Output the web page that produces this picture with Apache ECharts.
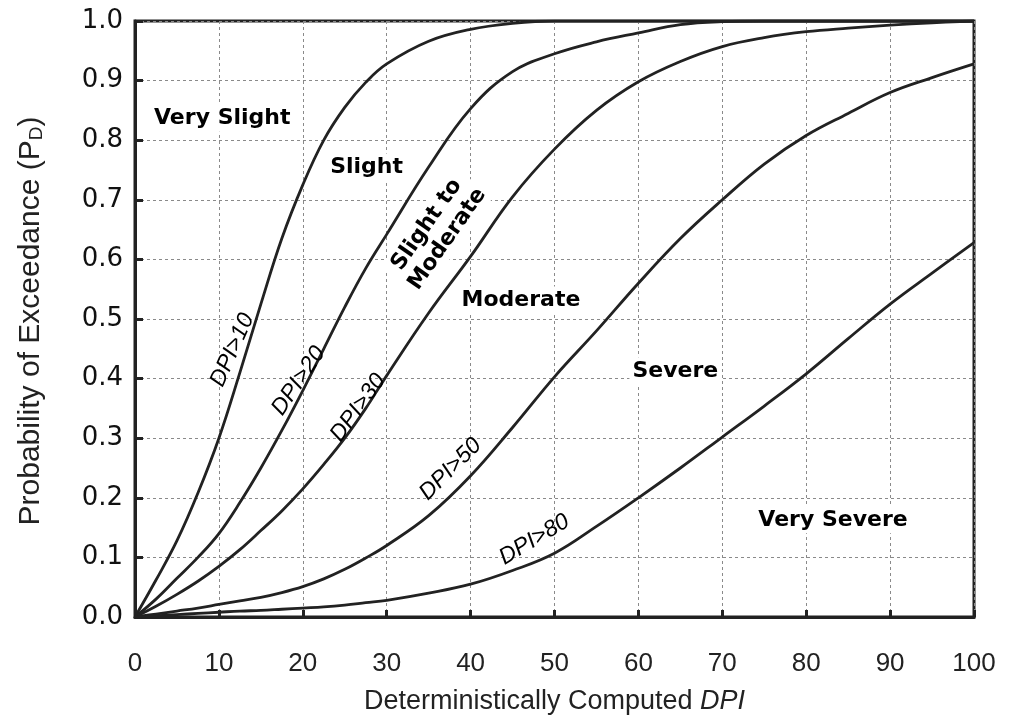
<!DOCTYPE html>
<html>
<head>
<meta charset="utf-8">
<script src="https://cdn.jsdelivr.net/npm/echarts@6/dist/echarts.min.js"></script>
<style>html,body{margin:0;padding:0;background:#fff;}#c{width:1009px;height:720px;}</style>
</head>
<body>
<div id="c"></div>
<script>
// DPI values (x) shared by all curves
var dpi = [0,2.5,5,7.5,10,12.5,15,17.5,20,22.5,25,27.5,30,35,40,45,50,55,60,65,70,75,80,85,90,95,100];
// Probability of exceedance for each threshold
var pGt10 = [0,0.062,0.128,0.208,0.30,0.41,0.525,0.635,0.725,0.80,0.855,0.897,0.928,0.966,0.986,0.996,1,1,1,1,1,1,1,1,1,1,1];
var pGt20 = [0,0.03,0.065,0.10,0.14,0.192,0.25,0.313,0.38,0.45,0.52,0.585,0.642,0.755,0.853,0.915,0.945,0.965,0.98,0.994,0.999,1,1,1,1,1,1];
var pGt30 = [0,0.018,0.038,0.06,0.085,0.113,0.145,0.178,0.215,0.256,0.30,0.35,0.405,0.51,0.605,0.705,0.785,0.85,0.898,0.932,0.957,0.972,0.982,0.988,0.993,0.997,1];
var pGt50 = [0,0.005,0.01,0.015,0.021,0.027,0.033,0.041,0.051,0.064,0.08,0.099,0.12,0.17,0.237,0.318,0.403,0.48,0.56,0.635,0.70,0.76,0.808,0.845,0.88,0.905,0.928];
var pGt80 = [0,0.002,0.004,0.006,0.008,0.01,0.011,0.013,0.015,0.017,0.02,0.024,0.028,0.04,0.055,0.078,0.107,0.152,0.20,0.25,0.302,0.354,0.408,0.467,0.525,0.577,0.628];
var curveNames = ['DPI>10','DPI>20','DPI>30','DPI>50','DPI>80'];
var xTicks = [0,10,20,30,40,50,60,70,80,90,100];
var yTicks = [0,0.1,0.2,0.3,0.4,0.5,0.6,0.7,0.8,0.9,1.0];

// Region annotations (data coordinates)
var regionNames = ['Very Slight','Slight','Slight to\nModerate','Moderate','Severe','Very Severe'];
var regionAt = [[10.4,0.837],[27.6,0.755],[36.0,0.646],[46.0,0.532],[64.4,0.413],[83.2,0.163]];
var regionRot = [0,0,55,0,0,0];
var curveLabelAt = [[11.6,0.448],[19.5,0.396],[26.6,0.351],[37.6,0.248],[47.6,0.13]];
var curveLabelRot = [66,56,54,45,31];

var chart = echarts.init(document.getElementById('c'));
var curves = [pGt10,pGt20,pGt30,pGt50,pGt80];
var series = curves.map(function(ys, i){
  return {
    name: curveNames[i], type: 'line', smooth: 0.4, showSymbol: false,
    lineStyle: {color: '#222', width: 2.8},
    data: dpi.map(function(x, j){ return [x, ys[j]]; }),
    z: 3
  };
});
series.push({
  type: 'scatter', symbolSize: 0, silent: true, z: 5,
  itemStyle: {opacity: 1},
  data: regionNames.map(function(n, i){
    return {name: n, value: regionAt[i], label: {rotate: regionRot[i]}};
  }),
  label: {show: true, position: 'inside', formatter: '{b}', color: '#000', opacity: 1,
    fontFamily: 'DejaVu Sans', fontWeight: 'bold', fontSize: 22, lineHeight: 25,
    backgroundColor: '#fff', padding: [1, 3]}
});
series.push({
  type: 'scatter', symbolSize: 0, silent: true, z: 5,
  itemStyle: {opacity: 1},
  data: curveNames.map(function(n, i){
    return {name: n, value: curveLabelAt[i], label: {rotate: curveLabelRot[i]}};
  }),
  label: {show: true, position: 'inside', formatter: '{b}', color: '#000', opacity: 1,
    fontFamily: 'Liberation Sans', fontStyle: 'italic', fontSize: 23}
});

chart.setOption({
  animation: false,
  backgroundColor: '#fff',
  grid: {left: 135, right: 35, top: 21, bottom: 98, show: true, borderColor: '#222', borderWidth: 3, backgroundColor: 'transparent'},
  xAxis: {
    type: 'value', min: 0, max: 100, interval: 10,
    name: 'Deterministically Computed {i|DPI}', nameLocation: 'middle', nameGap: 71,
    nameTextStyle: {fontFamily: 'Liberation Sans', fontSize: 27, color: '#222',
      rich: {i: {fontFamily: 'Liberation Sans', fontStyle: 'italic', fontSize: 27, color: '#222'}}},
    axisLine: {show: true, lineStyle: {color: '#222', width: 3}},
    axisTick: {show: true, inside: true, length: 7, lineStyle: {color: '#222', width: 3}},
    axisLabel: {margin: 34, fontFamily: 'Liberation Sans', fontSize: 26, color: '#222',
      formatter: function(v){ return xTicks.indexOf(v) >= 0 ? String(v) : ''; }},
    splitLine: {show: true, lineStyle: {color: '#8a8a8a', width: 1, type: [3, 3]}}
  },
  yAxis: {
    type: 'value', min: 0, max: 1, interval: 0.1,
    axisLine: {show: true, lineStyle: {color: '#222', width: 3}},
    axisTick: {show: true, inside: true, length: 8, lineStyle: {color: '#222', width: 3}},
    axisLabel: {margin: 12, fontFamily: 'DejaVu Sans', fontSize: 26, color: '#111',
      formatter: function(v){ return v.toFixed(1); }},
    splitLine: {show: true, lineStyle: {color: '#8a8a8a', width: 1, type: [3, 3]}}
  },
  graphic: [{
    type: 'text', x: 31, y: 321, rotation: Math.PI / 2,
    style: {
      text: 'Probability of Exceedance (P{s|D})',
      fontFamily: 'Liberation Sans', fontSize: 30, fill: '#222',
      align: 'center', verticalAlign: 'middle',
      rich: {s: {fontFamily: 'Liberation Sans', fontSize: 19, fill: '#222', padding: [12, 0, 0, 0]}}
    }
  }],
  series: series
});
</script>
</body>
</html>
